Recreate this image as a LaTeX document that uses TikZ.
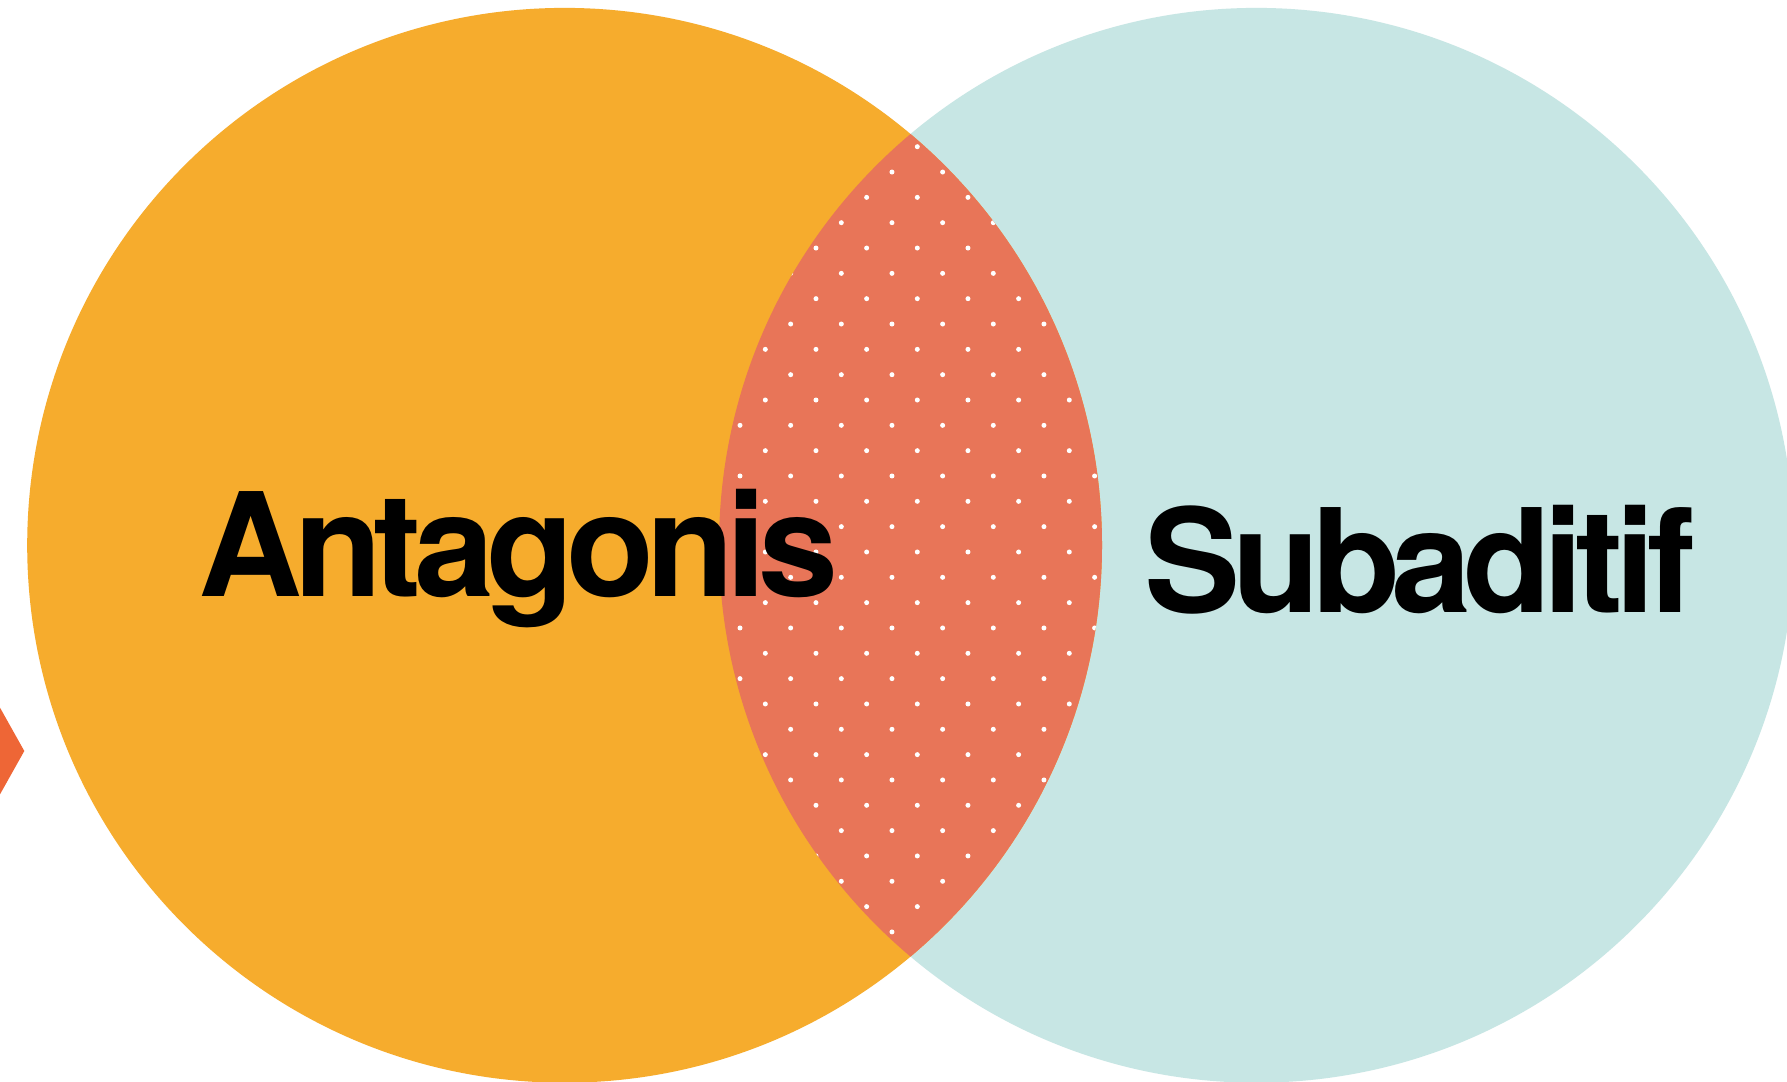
\documentclass[tikz,border=0pt]{standalone}
\usepackage{fontspec}
\newfontfamily\vennfont[LetterSpace=-5.6]{TeX Gyre Heros}
\definecolor{vorange}{HTML}{F6AC2D}
\definecolor{vteal}{HTML}{C7E6E4}
\definecolor{vlens}{HTML}{E87558}
\definecolor{vhex}{HTML}{EE6636}
\tikzset{
  vlabel/.style={inner sep=0pt, outer sep=0pt, text=black,
    font=\vennfont\bfseries\fontsize{144}{148}\selectfont},
  dotfill/.style={fill=white}
}
\begin{document}
\begin{tikzpicture}[x=1pt,y=-1pt]
\useasboundingbox (0,0) rectangle (1787,1081);
\fill[white] (0,0) rectangle (1787,1081);
\begin{scope}
  \clip (0,0) rectangle (1787,1081);
  \fill[vhex] (-20,672) -- (24.3,751) -- (-20,830) -- cycle;
  \fill[vteal] (1256.4,545.3) circle[radius=537.4pt];
  \fill[vorange] (564.6,545.3) circle[radius=537.4pt];
  \begin{scope}
    \clip (564.6,545.3) circle[radius=537.4pt];
    \fill[vlens] (1256.4,545.3) circle[radius=537.4pt];
    \clip (1256.4,545.3) circle[radius=537.4pt];
    \foreach \r in {0,...,32}{
      \foreach \k in {-9,...,9}{
        \pgfmathtruncatemacro{\dpar}{mod(abs(\r+\k),2)}
        \ifnum\dpar=0
          \fill[dotfill] ({917.3+\k*25.33},{146.7+\r*25.33}) circle[radius=2.5pt];
        \fi
      }
    }
  \end{scope}
\end{scope}
\node[vlabel, anchor=base west] (antag) at (198,596.7) {Antagonis};
\node[vlabel, anchor=base west] (subad) at (1144,612.7) {Subaditif};
\end{tikzpicture}
\end{document}
